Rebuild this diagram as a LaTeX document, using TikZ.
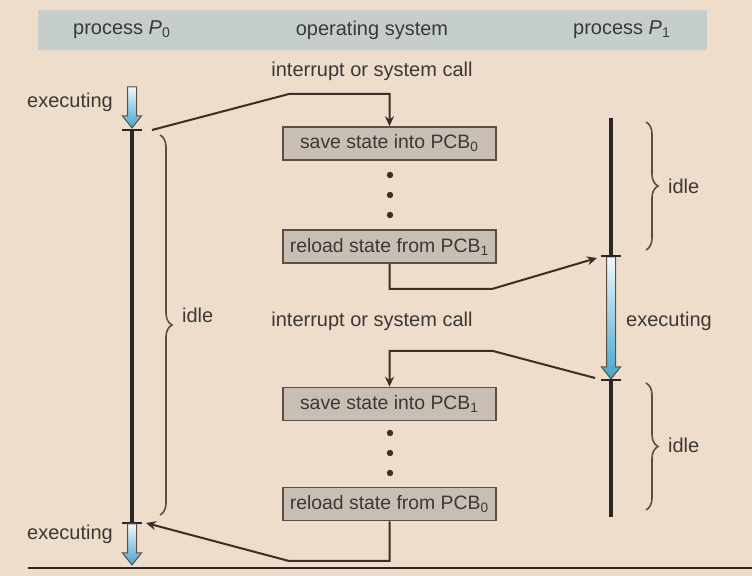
\documentclass[tikz,border=0pt]{standalone}
\usepackage{fontspec}
\setmainfont{Liberation Sans}
\usepackage{tikz}
\usetikzlibrary{calc}
\usetikzlibrary{arrows.meta}
\usetikzlibrary{decorations.pathreplacing}

\definecolor{bgcol}{HTML}{EFDDCB}
\definecolor{hdrcol}{HTML}{C6CECB}
\definecolor{boxfill}{HTML}{C8BEB4}
\definecolor{boxline}{HTML}{5B4E45}
\definecolor{linkcol}{HTML}{3A2E28}
\definecolor{tlcol}{HTML}{2A2624}
\definecolor{txtcol}{HTML}{3B3836}
\definecolor{execblue}{HTML}{45A4CB}

% shaded arrow for an executing stretch: x, top, tip
\newcommand{\execarrow}[3]{%
  \shade[execshade] (#1-4.5,#2) -- (#1+4.5,#2) -- (#1+4.5,#3-12)
    -- (#1+9.5,#3-12) -- (#1,#3) -- (#1-9.5,#3-12) -- (#1-4.5,#3-12) -- cycle;}

\begin{document}
\begin{tikzpicture}[x=0.5pt,y=-0.5pt,
    font=\fontsize{10}{12}\selectfont, text=txtcol,
    statebox/.style={draw=boxline, fill=boxfill, line width=0.8pt,
      minimum width=106.5pt, minimum height=16.5pt, inner sep=0pt,
      font=\fontsize{9.7}{11}\selectfont},
    link/.style={draw=linkcol, line width=1pt},
    linkarr/.style={link, -{Stealth[length=5pt,width=4.5pt]}},
    timeline/.style={draw=tlcol, line width=2pt},
    tickmark/.style={draw=tlcol, line width=0.6pt},
    idlebrace/.style={draw=boxline, line width=0.8pt, decorate,
      decoration={brace, amplitude=6pt}},
    execshade/.style={top color=white!92!execblue, bottom color=execblue,
      draw=boxline, line width=0.5pt},
    dotn/.style={circle, fill=linkcol, inner sep=0pt, minimum size=3.2pt}]
  % background and header band
  \fill[bgcol] (0,0) rectangle (752,576);
  \useasboundingbox (0,0) rectangle (752,576);
  \fill[hdrcol] (38,10) rectangle (707,50);
  \node (hdrp0) at (122,30) {process \textit{P}\textsubscript{0}};
  \node (hdros) at (372,30) {operating system};
  \node (hdrp1) at (622,30) {process \textit{P}\textsubscript{1}};

  % operating system column
  \node (int1) at (372,71) {interrupt or system call};
  \node[statebox] (save0) at (389.5,143.5) {save state into PCB\textsubscript{0}};
  \node[dotn] (d1) at (390,175) {};
  \node[dotn] (d2) at (390,195) {};
  \node[dotn] (d3) at (390,215) {};
  \node[statebox] (reload1) at (389.5,246.5) {reload state from PCB\textsubscript{1}};
  \node (int2) at (372,321) {interrupt or system call};
  \node[statebox] (save1) at (389.5,404) {save state into PCB\textsubscript{1}};
  \node[dotn] (d4) at (390,433) {};
  \node[dotn] (d5) at (390,453) {};
  \node[dotn] (d6) at (390,473) {};
  \node[statebox] (reload0) at (389.5,504) {reload state from PCB\textsubscript{0}};

  % process P0
  \execarrow{132}{87}{128}
  \draw[timeline] (132,131) -- (132,523);
  \draw[tickmark] (122,130) -- (142,130);
  \draw[tickmark] (122,523) -- (142,523);
  \execarrow{132}{524}{565}
  \node (exA) at (70,102) {executing};
  \node (exB) at (70,534) {executing};
  \draw[idlebrace] (160,135) -- (160,515);
  \node[anchor=west] (idA) at (175,315) {idle};

  % process P1
  \draw[timeline] (611,118) -- (611,256);
  \execarrow{611}{257}{379}
  \draw[timeline] (611,381) -- (611,517);
  \draw[tickmark] (601,256) -- (621,256);
  \draw[tickmark] (601,380) -- (621,380);
  \node (exC) at (669,321) {executing};
  \draw[idlebrace] (646,122) -- (646,250);
  \draw[idlebrace] (646,383) -- (646,510);
  \node[anchor=west] (idB) at (661,186) {idle};
  \node[anchor=west] (idC) at (661,445) {idle};

  % switches
  \coordinate (c1s) at (152,130);
  \coordinate (c1m) at (289,94);
  \coordinate (c2m) at (492,289);
  \coordinate (c2e) at (597,258);
  \coordinate (c3s) at (595,378);
  \coordinate (c3m) at (493,351);
  \coordinate (c4m) at (289,561);
  \coordinate (c4e) at (146,523);
  \draw[linkarr] (c1s) -- (c1m) -| (save0.north);
  \draw[linkarr] (reload1.south) |- (c2m) -- (c2e);
  \draw[linkarr] (c3s) -- (c3m) -| (save1.north);
  \draw[linkarr] (reload0.south) |- (c4m) -- (c4e);

  % ground line
  \draw[tlcol, line width=1pt] (28,568) -- (752,568);
\end{tikzpicture}
\end{document}
